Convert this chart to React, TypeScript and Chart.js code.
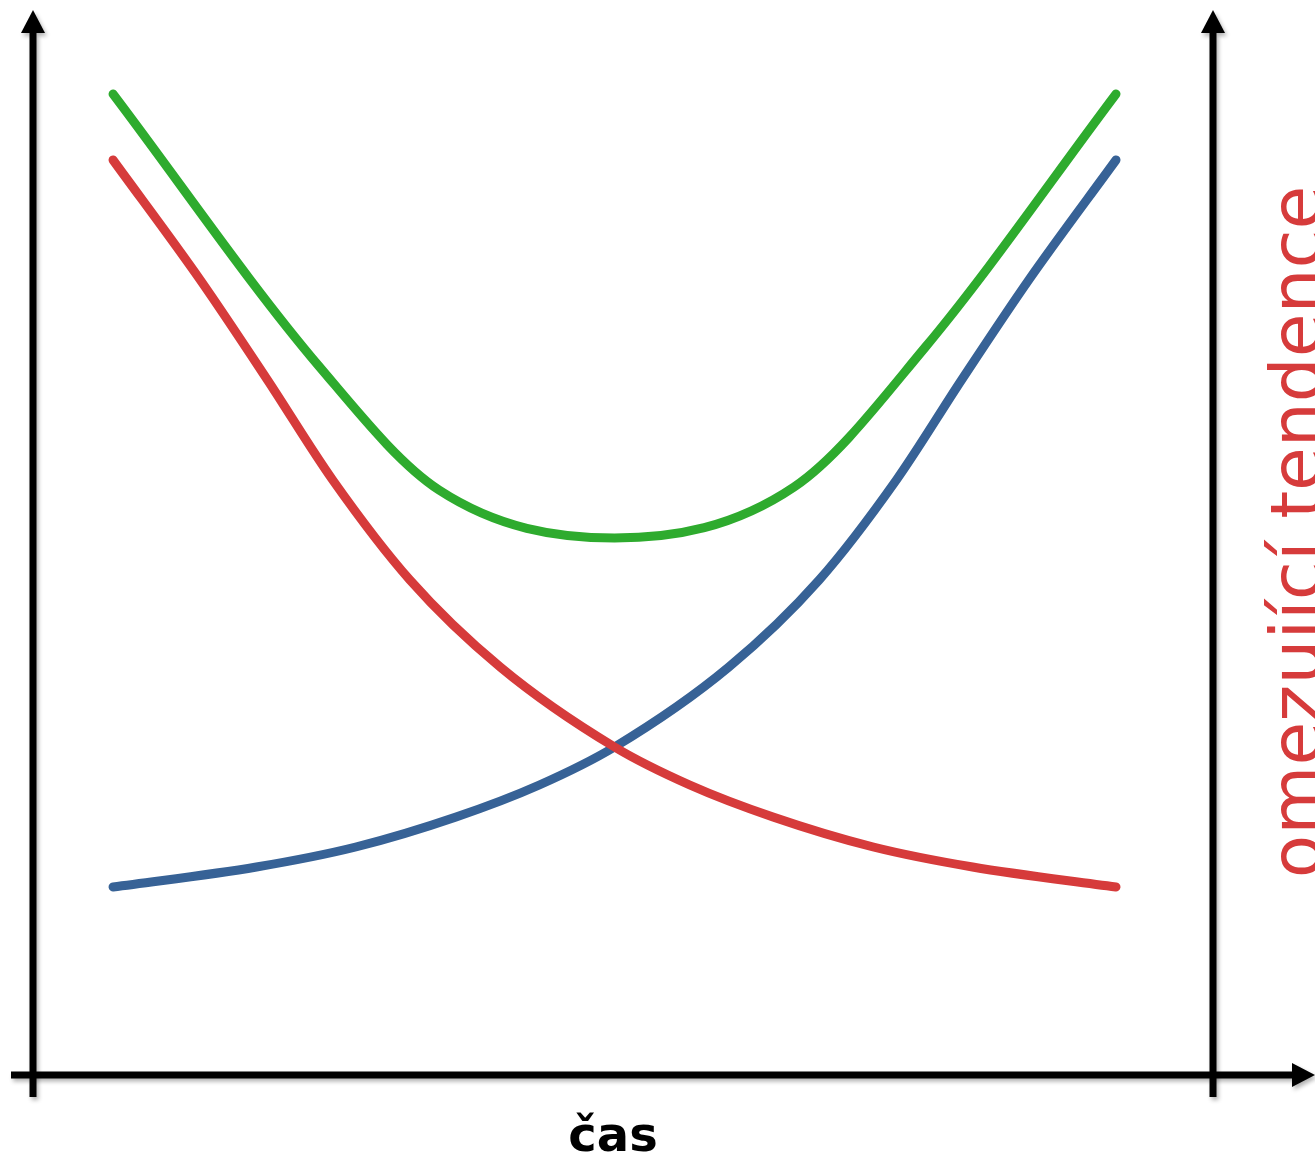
import React, { useEffect, useRef } from "react";
import { Chart, registerables } from "chart.js";

Chart.register(...registerables);

// Time positions (0 = start of curves, 100 = end of curves) and levels (0 = time axis)
const greenX = [0, 20.6, 32.5, 50.0, 67.9, 81.0, 100];
const greenY = [98.1, 70.8, 58.5, 53.7, 58.8, 72.8, 98.1];

const redX = [0, 8.7, 15.4, 21.9, 29.6, 38.6, 50.0, 57.5, 65.8, 75.8, 85.7, 100];
const redY = [91.5, 79.5, 69.5, 59.5, 49.5, 40.8, 32.8, 29.0, 25.8, 22.8, 20.8, 18.8];

const blueX = [0, 14.3, 24.2, 34.2, 42.5, 50.0, 61.4, 70.4, 78.1, 84.6, 91.3, 100];
const blueY = [18.8, 20.8, 22.8, 25.8, 29.0, 32.8, 40.8, 49.5, 59.5, 69.5, 79.5, 91.5];

const X_MIN = -7.98;
const X_MAX = 109.67;
const Y_MIN = 0;
const Y_MAX = 106.5;

const X_TITLE = "čas";
const RIGHT_TITLE = "omezující tendence";

const GREEN = "#2eab2e";
const RED = "#d63b3b";
const BLUE = "#376296";

const toPoints = (xs: number[], ys: number[]) => xs.map((x, i) => ({ x, y: ys[i] }));

const axesPlugin = {
  id: "arrowAxes",
  beforeDatasetsDraw(chart: any) {
    const { ctx, chartArea } = chart;
    const { left, right, top, bottom } = chartArea;
    const w = 7;
    const head = 23;
    const half = 12;
    ctx.save();
    ctx.shadowColor = "rgba(0,0,0,0.3)";
    ctx.shadowBlur = 4;
    ctx.shadowOffsetX = 2;
    ctx.shadowOffsetY = 3;
    ctx.fillStyle = "#000";
    ctx.strokeStyle = "#000";
    ctx.lineWidth = w;
    ctx.lineCap = "butt";
    // horizontal axis
    ctx.beginPath();
    ctx.moveTo(left - 22, bottom);
    ctx.lineTo(chart.width - head, bottom);
    ctx.stroke();
    ctx.beginPath();
    ctx.moveTo(chart.width, bottom);
    ctx.lineTo(chart.width - head, bottom - half);
    ctx.lineTo(chart.width - head, bottom + half);
    ctx.closePath();
    ctx.fill();
    // vertical axes
    [left, right].forEach((x: number) => {
      ctx.beginPath();
      ctx.moveTo(x, bottom + 22);
      ctx.lineTo(x, top + head);
      ctx.stroke();
      ctx.beginPath();
      ctx.moveTo(x, top);
      ctx.lineTo(x - half, top + head);
      ctx.lineTo(x + half, top + head);
      ctx.closePath();
      ctx.fill();
    });
    ctx.restore();
  },
  afterDraw(chart: any) {
    const { ctx } = chart;
    ctx.save();
    // x title
    ctx.fillStyle = "#000";
    ctx.font = "bold 48px 'DejaVu Sans'";
    ctx.textAlign = "center";
    ctx.textBaseline = "alphabetic";
    ctx.fillText(X_TITLE, 613, 1151);
    // right rotated title (reads bottom to top)
    ctx.translate(1321, 532);
    ctx.rotate(-Math.PI / 2);
    ctx.fillStyle = RED;
    ctx.font = "71px 'DejaVu Sans'";
    ctx.textAlign = "center";
    ctx.fillText(RIGHT_TITLE, 0, 0);
    ctx.restore();
  },
};

export default function App() {
  const ref = useRef<HTMLCanvasElement | null>(null);
  useEffect(() => {
    if (!ref.current) return;
    const ds = (label: string, xs: number[], ys: number[], color: string) => ({
      label,
      data: toPoints(xs, ys),
      borderColor: color,
      backgroundColor: color,
      borderWidth: 9,
      pointRadius: 0,
      cubicInterpolationMode: "monotone" as const,
      borderCapStyle: "round" as const,
      borderJoinStyle: "round" as const,
      fill: false,
    });
    const chart = new Chart(ref.current, {
      type: "line",
      data: {
        datasets: [
          ds("green", greenX, greenY, GREEN),
          ds("red", redX, redY, RED),
          ds("blue", blueX, blueY, BLUE),
        ],
      },
      options: {
        responsive: false,
        animation: false,
        layout: { padding: { left: 33, right: 102, top: 10, bottom: 86 } },
        scales: {
          x: { type: "linear", min: X_MIN, max: X_MAX, display: false },
          y: { type: "linear", min: Y_MIN, max: Y_MAX, display: false },
        },
        plugins: { legend: { display: false }, tooltip: { enabled: false } },
      },
      plugins: [axesPlugin],
    });
    return () => chart.destroy();
  }, []);
  return (
    <div style={{ position: "fixed", left: 0, top: 0, width: 1315, height: 1161, background: "#fff" }}>
      <canvas ref={ref} width={1315} height={1161} style={{ display: "block" }} />
    </div>
  );
}
